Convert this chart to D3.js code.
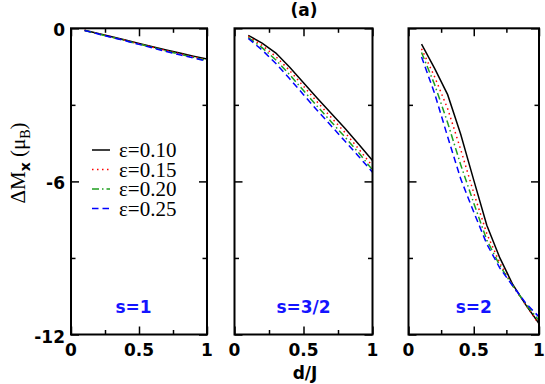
<!DOCTYPE html>
<html><head><meta charset="utf-8">
<script src="https://cdn.jsdelivr.net/npm/d3@7"></script>
<style>body{margin:0;background:#fff}</style>
</head><body>
<svg id="c" width="545" height="384"></svg>
<script>
// ---- data ----
const dOverJ = [0.1, 0.2, 0.3, 0.4, 0.5, 0.6, 0.7, 0.8, 0.9, 1.0];
const epsLabels = ["ε=0.10", "ε=0.15", "ε=0.20", "ε=0.25"];
const spinLabels = ["s=1", "s=3/2", "s=2"];
const xTicks = [0, 0.5, 1];
const xMinorTicks = [0.25, 0.75];
const yTicks = [0, -6, -12];
const yMinorTicks = [-3, -9];
const xTickLabels = ["0", "0.5", "1"];
const yTickLabels = ["0", "-6", "-12"];

// s = 1
const s1_eps010 = [-0.08, -0.20, -0.33, -0.46, -0.59, -0.72, -0.85, -0.97, -1.09, -1.20];
const s1_eps015 = [-0.08, -0.21, -0.34, -0.47, -0.61, -0.74, -0.87, -1.00, -1.12, -1.23];
const s1_eps020 = [-0.09, -0.22, -0.35, -0.48, -0.62, -0.75, -0.89, -1.02, -1.14, -1.26];
const s1_eps025 = [-0.09, -0.22, -0.36, -0.49, -0.63, -0.77, -0.91, -1.04, -1.16, -1.29];
// s = 3/2
const s32_eps010 = [-0.28, -0.58, -0.97, -1.53, -2.13, -2.74, -3.33, -3.92, -4.54, -5.18];
const s32_eps015 = [-0.32, -0.67, -1.11, -1.66, -2.27, -2.89, -3.49, -4.08, -4.73, -5.40];
const s32_eps020 = [-0.36, -0.76, -1.24, -1.82, -2.44, -3.06, -3.66, -4.26, -4.88, -5.55];
const s32_eps025 = [-0.40, -0.85, -1.38, -1.98, -2.60, -3.22, -3.82, -4.42, -5.02, -5.64];
// s = 2
const s2_eps010 = [-0.62, -1.57, -2.60, -4.15, -5.95, -7.72, -9.00, -10.05, -10.85, -11.57];
const s2_eps015 = [-0.80, -1.90, -3.15, -4.75, -6.45, -8.05, -9.20, -10.10, -10.85, -11.60];
const s2_eps020 = [-0.95, -2.20, -3.70, -5.35, -6.85, -8.30, -9.30, -10.10, -10.82, -11.45];
const s2_eps025 = [-1.12, -2.55, -4.25, -5.90, -7.20, -8.45, -9.40, -10.10, -10.78, -11.31];

const panelSeries = [
  [s1_eps010, s1_eps015, s1_eps020, s1_eps025],
  [s32_eps010, s32_eps015, s32_eps020, s32_eps025],
  [s2_eps010, s2_eps015, s2_eps020, s2_eps025]
];

// ---- styles / layout ----
const colors = ["#000000", "#ff0000", "#1f9f1f", "#0000ff"];
const dashes = [null, "1.5,3.5", "7,3,1.5,3", "6.5,4"];
const panelX = [[71, 207], [234.5, 372.5], [408.5, 539]];
const plotTop = 28.3, plotBottom = 334.5;
const sansBold = "'DejaVu Sans', sans-serif";
const serif = "'Liberation Serif', 'Times New Roman', serif";

const svg = d3.select("#c");
const y = d3.scaleLinear().domain([-12, 0]).range([plotBottom, plotTop]);

panelX.forEach((px, i) => {
  const x = d3.scaleLinear().domain([0, 1]).range(px);
  const g = svg.append("g");

  // curves
  panelSeries[i].forEach((vals, k) => {
    const line = d3.line().x(d => x(d[0])).y(d => y(d[1]));
    g.append("path")
      .datum(dOverJ.map((d, j) => [d, vals[j]]))
      .attr("d", line)
      .attr("fill", "none")
      .attr("stroke", colors[k])
      .attr("stroke-width", 1.5)
      .attr("stroke-dasharray", dashes[k]);
  });

  // ticks (inward)
  const mk = (axisFn, scale, vals, size, tr) => {
    const a = g.append("g").attr("transform", tr)
      .call(axisFn(scale).tickValues(vals).tickSize(-size).tickFormat(""));
    a.select(".domain").remove();
    a.selectAll("line").attr("stroke", "#000").attr("stroke-width", 1.5);
    return a;
  };
  mk(d3.axisBottom, x, xTicks, 8, `translate(0,${plotBottom})`);
  mk(d3.axisBottom, x, xMinorTicks, 4.5, `translate(0,${plotBottom})`);
  mk(d3.axisTop, x, xTicks, 8, `translate(0,${plotTop})`);
  mk(d3.axisTop, x, xMinorTicks, 4.5, `translate(0,${plotTop})`);
  mk(d3.axisLeft, y, yTicks, 8, `translate(${px[0]},0)`);
  mk(d3.axisLeft, y, yMinorTicks, 4.5, `translate(${px[0]},0)`);
  mk(d3.axisRight, y, yTicks, 8, `translate(${px[1]},0)`);
  mk(d3.axisRight, y, yMinorTicks, 4.5, `translate(${px[1]},0)`);

  // frame
  g.append("rect").attr("x", px[0]).attr("y", plotTop)
    .attr("width", px[1] - px[0]).attr("height", plotBottom - plotTop)
    .attr("fill", "none").attr("stroke", "#000").attr("stroke-width", 2);

  // x tick labels
  g.selectAll("text.xl").data(xTicks).join("text")
    .attr("x", d => x(d)).attr("y", plotBottom + 21.5)
    .attr("text-anchor", "middle")
    .attr("font-family", sansBold).attr("font-weight", "bold").attr("font-size", 17)
    .text((d, j) => xTickLabels[j]);

  // spin label
  g.append("text")
    .attr("x", x(i === 0 ? 0.46 : 0.5)).attr("y", 313)
    .attr("text-anchor", "middle")
    .attr("font-family", sansBold).attr("font-weight", "bold").attr("font-size", 17)
    .attr("fill", "#1414ff")
    .text(spinLabels[i]);

  if (i === 0) {
    g.selectAll("text.yl").data(yTicks).join("text")
      .attr("x", px[0] - 6).attr("y", d => y(d) + 8)
      .attr("text-anchor", "end")
      .attr("font-family", sansBold).attr("font-weight", "bold").attr("font-size", 17)
      .text((d, j) => yTickLabels[j]);

    // legend
    epsLabels.forEach((lab, k) => {
      const ly = 150 + 19.5 * k;
      g.append("line").attr("x1", 92).attr("x2", 110).attr("y1", ly).attr("y2", ly)
        .attr("stroke", colors[k]).attr("stroke-width", 1.5)
        .attr("stroke-dasharray", dashes[k]);
      g.append("text").attr("x", 119).attr("y", ly + 7)
        .attr("font-family", serif).attr("font-size", 21)
        .text(lab);
    });
  }
});

// title
svg.append("text").attr("x", 304).attr("y", 16).attr("text-anchor", "middle")
  .attr("font-family", sansBold).attr("font-weight", "bold").attr("font-size", 17)
  .text("(a)");

// x label
svg.append("text").attr("x", 305).attr("y", 379).attr("text-anchor", "middle")
  .attr("font-family", sansBold).attr("font-weight", "bold").attr("font-size", 17)
  .text("d/J");

// y label
const yl = svg.append("text").attr("transform", "translate(25,163) rotate(-90)")
  .attr("text-anchor", "middle").attr("font-family", serif).attr("font-size", 21);
yl.append("tspan").text("ΔM");
yl.append("tspan").attr("dy", 5).attr("font-size", 14).attr("font-family", sansBold)
  .attr("font-weight", "bold").text("x");
yl.append("tspan").attr("dy", -5).text(" (μ");
yl.append("tspan").attr("dy", 5).attr("font-size", 14).text("B");
yl.append("tspan").attr("dy", -5).text(")");
</script>
</body></html>
